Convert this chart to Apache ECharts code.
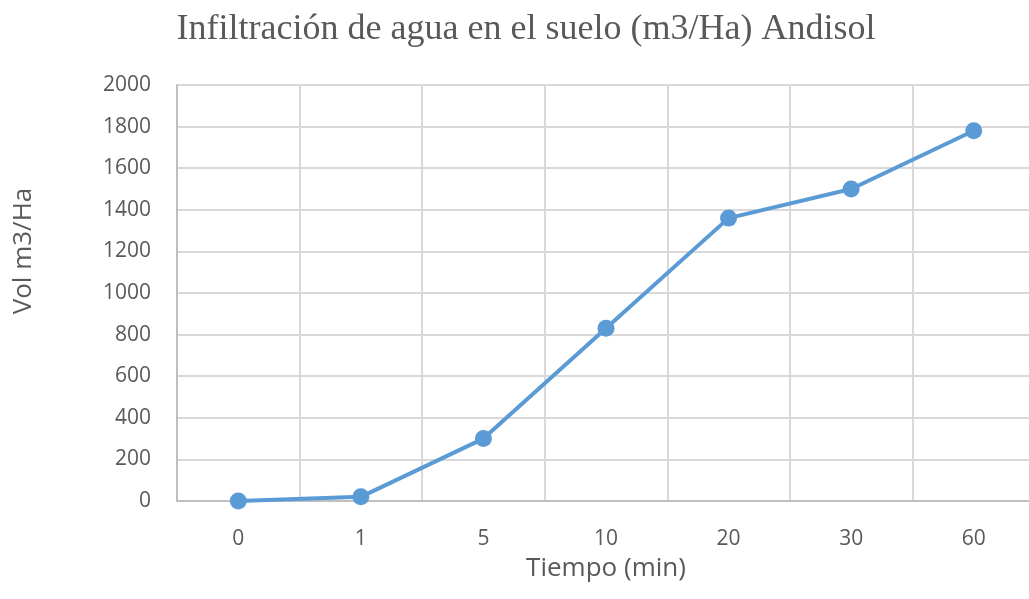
<!DOCTYPE html>
<html><head><meta charset="utf-8">
<script src="https://cdn.jsdelivr.net/npm/echarts@6/dist/echarts.min.js"></script>
<style>html,body{margin:0;padding:0;background:#fff}#c{width:1029px;height:599px}</style>
</head><body><div id="c"></div>
<script>
const categories = ['0','1','5','10','20','30','60'];
const volumes = [0, 20, 300, 830, 1360, 1500, 1780];
const titleText = 'Infiltración de agua en el suelo (m3/Ha) Andisol';
const xName = 'Tiempo (min)';
const yName = 'Vol m3/Ha';

const chart = echarts.init(document.getElementById('c'));
chart.setOption({
  animation: false,
  title: {
    text: titleText, left: 521, top: 7, textAlign: 'center',
    textStyle: {fontFamily: 'Liberation Serif', fontSize: 36, fontWeight: 'normal', color: '#595959'}
  },
  grid: {left: 177, top: 85, width: 858, height: 416, containLabel: false, outerBoundsMode: 'none'},
  xAxis: {
    type: 'category', data: categories, boundaryGap: true,
    name: xName, nameLocation: 'middle', nameGap: 55,
    nameTextStyle: {fontFamily: 'Open Sans', fontSize: 26, color: '#595959'},
    axisLine: {lineStyle: {color: '#bfbfbf', width: 2}},
    axisTick: {show: false},
    axisLabel: {fontFamily: 'Open Sans', fontSize: 21, color: '#595959', margin: 28},
    splitLine: {show: true, lineStyle: {color: '#d9d9d9', width: 2}}
  },
  yAxis: {
    type: 'value', min: 0, max: 2000, interval: 200,
    name: yName, nameLocation: 'middle', nameGap: 140, nameRotate: 90,
    nameTextStyle: {fontFamily: 'Open Sans', fontSize: 26, color: '#595959', padding: [0, 0, 0, 84]},
    axisLine: {show: true, lineStyle: {color: '#bfbfbf', width: 2}},
    axisTick: {show: false},
    axisLabel: {fontFamily: 'Open Sans', fontSize: 21, color: '#595959', margin: 26,
      formatter: v => String(v)},
    splitLine: {lineStyle: {color: '#d9d9d9', width: 2}}
  },
  series: [{
    type: 'line', data: volumes,
    symbol: 'circle', symbolSize: 17,
    lineStyle: {color: '#5b9bd5', width: 4},
    itemStyle: {color: '#5b9bd5'}
  }]
});
</script></body></html>
